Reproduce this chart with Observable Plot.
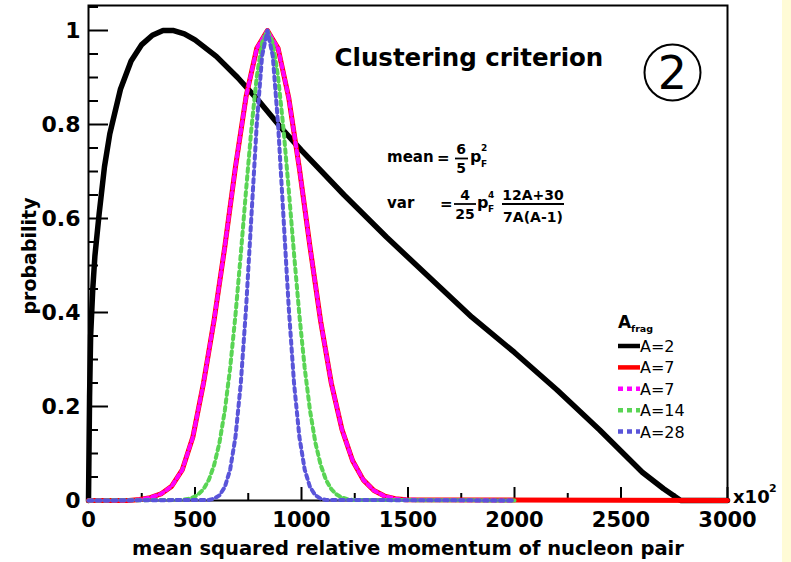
<!DOCTYPE html>
<html><head><meta charset="utf-8">
<script src="https://cdn.jsdelivr.net/npm/d3@7"></script>
<script src="https://cdn.jsdelivr.net/npm/@observablehq/plot@0.6"></script>
<style>
html,body{margin:0;padding:0;background:#fff;}
#wrap{position:relative;width:791px;height:562px;overflow:hidden;background:#fff;}
#strip{position:absolute;left:782px;top:0;width:9px;height:562px;background:#fffbd6;z-index:2;}
</style></head><body><div id="wrap"><div id="strip"></div></div>
<script>
// ---- data ----
const yTicks = [0, 0.2, 0.4, 0.6, 0.8, 1];
const yTickLabels = ["0", "0.2", "0.4", "0.6", "0.8", "1"];
const yMinorTicks = [0.05, 0.1, 0.15, 0.25, 0.3, 0.35, 0.45, 0.5, 0.55, 0.65, 0.7, 0.75, 0.85, 0.9, 0.95, 1.05];
const xTicks = [0, 500, 1000, 1500, 2000, 2500, 3000];
const xMinorTicks = [250, 750, 1250, 1750, 2250, 2750];
const seriesNames = ["A=2", "A=7", "A=7", "A=14", "A=28"];
const seriesColors = ["#000000", "#ff0000", "#ff00ff", "#59d454", "#5954d9"];

// A=2 (black)
const a2X = [0, 5, 10, 20, 30, 50, 75, 100, 150, 200, 250, 300, 350, 400, 450, 500, 600, 700, 800, 900, 1000, 1200, 1400, 1600, 1800, 2000, 2200, 2400, 2600, 2700, 2780, 3000];
const a2Y = [0, 0.22, 0.35, 0.45, 0.52, 0.61, 0.71, 0.78, 0.875, 0.935, 0.97, 0.99, 1.0, 1.0, 0.993, 0.98, 0.945, 0.9, 0.85, 0.795, 0.745, 0.65, 0.56, 0.475, 0.39, 0.315, 0.235, 0.15, 0.06, 0.025, 0, 0];
// A=7 (red solid, magenta dotted)
const a7X = [0, 190, 240, 290, 340, 390, 440, 490, 540, 590, 640, 690, 740, 790, 840, 890, 940, 990, 1040, 1090, 1140, 1190, 1240, 1290, 1340, 1390, 1440, 1490, 3000];
const a7Y = [0, 0, 0.002, 0.006, 0.014, 0.03, 0.065, 0.135, 0.25, 0.385, 0.54, 0.71, 0.86, 0.962, 1, 0.9621, 0.857, 0.7067, 0.5394, 0.3812, 0.2494, 0.151, 0.0847, 0.0439, 0.0211, 0.0094, 0.0039, 0.0015, 0];
const a7bX = [0, 190, 240, 290, 340, 390, 440, 490, 540, 590, 640, 690, 740, 790, 840, 890, 940, 990, 1040, 1090, 1140, 1190, 1240, 1290, 1340, 1390, 1440, 1490, 2000];
const a7bY = [0, 0, 0.002, 0.006, 0.014, 0.03, 0.065, 0.135, 0.25, 0.385, 0.54, 0.71, 0.86, 0.962, 1, 0.9621, 0.857, 0.7067, 0.5394, 0.3812, 0.2494, 0.151, 0.0847, 0.0439, 0.0211, 0.0094, 0.0039, 0.0015, 0];
// A=14 (green dotted)
const a14X = [0, 440, 465, 490, 515, 540, 565, 590, 615, 640, 665, 690, 715, 740, 765, 790, 815, 840, 865, 890, 915, 940, 965, 990, 1015, 1040, 1065, 1090, 1115, 1140, 1165, 1190, 1215, 1240, 2000];
const a14Y = [0, 0.0013, 0.003, 0.0063, 0.0127, 0.0242, 0.0439, 0.0756, 0.1234, 0.1914, 0.282, 0.3946, 0.5243, 0.6615, 0.7926, 0.9018, 0.9745, 1, 0.9745, 0.9018, 0.7926, 0.6615, 0.5243, 0.3946, 0.282, 0.1914, 0.1234, 0.0756, 0.0439, 0.0242, 0.0127, 0.0063, 0.003, 0.0013, 0];
// A=28 (blue dotted)
const a28X = [0, 565, 590, 615, 640, 665, 690, 715, 740, 765, 790, 815, 840, 865, 890, 915, 940, 965, 990, 1015, 1040, 1065, 1090, 1115, 2000];
const a28Y = [0, 0.0012, 0.0039, 0.0111, 0.0286, 0.0657, 0.1353, 0.2494, 0.4111, 0.6065, 0.8007, 0.946, 1, 0.946, 0.8007, 0.6065, 0.4111, 0.2494, 0.1353, 0.0657, 0.0286, 0.0111, 0.0039, 0.0012, 0];

const toRows = (xs, ys) => xs.map((x, i) => ({x, y: ys[i]}));
const FONT = "DejaVu Sans, Liberation Sans, Arial, sans-serif";

const chart = Plot.plot({
  width: 791, height: 562,
  marginLeft: 88, marginRight: 64, marginTop: 5, marginBottom: 62,
  x: {domain: [0, 3000]},
  y: {domain: [0, 1.0532]},
  style: {fontFamily: FONT, background: "transparent", color: "black"},
  marks: [
    Plot.frame({stroke: "black", strokeWidth: 2}),
    Plot.axisY(yTicks, {tickSize: -20, fill: "none", label: null, strokeWidth: 2}),
    Plot.axisY(yMinorTicks, {tickSize: -10, fill: "none", label: null, strokeWidth: 2}),
    Plot.axisY(yTicks, {tickSize: 0, tickPadding: 8, stroke: "none", label: null, fontSize: 22, fontWeight: "bold",
      tickFormat: d => yTickLabels[yTicks.indexOf(d)]}),
    Plot.axisX(xTicks, {tickSize: -13, fill: "none", label: null, strokeWidth: 2}),
    Plot.axisX(xMinorTicks, {tickSize: -7, fill: "none", label: null, strokeWidth: 2}),
    Plot.axisX(xTicks, {tickSize: 0, tickPadding: 12, stroke: "none", label: null, fontSize: 21, fontWeight: "bold", tickFormat: d => String(d)}),
    Plot.line(toRows(a2X, a2Y), {x: "x", y: "y", stroke: seriesColors[0], strokeWidth: 5.5}),
    Plot.line(toRows(a7X, a7Y), {x: "x", y: "y", stroke: seriesColors[1], strokeWidth: 5}),
    Plot.line(toRows(a7bX, a7bY), {x: "x", y: "y", stroke: seriesColors[2], strokeWidth: 4, strokeDasharray: "4 4"}),
    Plot.line(toRows(a14X, a14Y), {x: "x", y: "y", stroke: seriesColors[3], strokeWidth: 4, strokeDasharray: "4 4"}),
    Plot.line(toRows(a28X, a28Y), {x: "x", y: "y", stroke: seriesColors[4], strokeWidth: 4, strokeDasharray: "4 4"}),
    Plot.text(["mean squared relative momentum of nucleon pair"], {frameAnchor: "bottom", dy: 48, lineAnchor: "middle", textAnchor: "middle", fontSize: 19.5, fontWeight: "bold", text: d => d}),
    Plot.text(["probability"], {frameAnchor: "left", dx: -59, dy: 3, rotate: -90, textAnchor: "middle", lineAnchor: "middle", fontSize: 19, fontWeight: "bold", text: d => d}),
    Plot.text(["Clustering criterion"], {frameAnchor: "top-left", dx: 246, dy: 53, textAnchor: "start", lineAnchor: "middle", fontSize: 24.5, fontWeight: "bold", text: d => d}),
    Plot.dot([0], {frameAnchor: "top-left", dx: 584, dy: 67, r: 28, stroke: "black", strokeWidth: 2, fill: "none"}),
    Plot.text(["2"], {frameAnchor: "top-left", dx: 584, dy: 69, textAnchor: "middle", lineAnchor: "middle", fontSize: 46, text: d => d})
  ]
});
document.getElementById("wrap").appendChild(chart);

// ---- annotations (formula, legend, exponent) ----
const svg = d3.select(chart);
const g = svg.append("g").attr("font-family", FONT).attr("fill", "black");
function t(x, y, s, size, weight, anchor) {
  return g.append("text").attr("x", x).attr("y", y).attr("font-size", size)
    .attr("font-weight", weight || "bold").attr("text-anchor", anchor || "start").text(s);
}
function bar(x1, x2, y, w) {
  g.append("line").attr("x1", x1).attr("x2", x2).attr("y1", y).attr("y2", y)
    .attr("stroke", "black").attr("stroke-width", w || 1.8);
}
// mean
t(387, 162, "mean", 15);
t(437, 163, "=", 15);
t(461, 154, "6", 14, "bold", "middle");
bar(455, 468, 158.5);
t(461, 173, "5", 14, "bold", "middle");
t(470, 162, "p", 16);
t(481, 151, "2", 9);
t(481, 167, "F", 9);
// var
t(387, 208, "var", 15);
t(440, 209, "=", 15);
t(465, 200, "4", 14, "bold", "middle");
bar(454, 476, 204);
t(465, 219, "25", 14, "bold", "middle");
t(477, 208, "p", 16);
t(488, 198, "4", 9);
t(488, 212, "F", 9);
t(533, 200, "12A+30", 14, "bold", "middle");
bar(502, 564, 204, 2);
t(533, 222, "7A(A-1)", 14, "bold", "middle");
// exponent
t(733, 503, "x10", 18);
t(769, 492, "2", 11);
// legend
t(618, 328, "A", 17);
t(631, 332, "frag", 9.5);
const legendY0 = 346, legendDy = 21.4;
seriesNames.forEach((name, i) => {
  const y = legendY0 + i * legendDy;
  const ln = g.append("line").attr("x1", 618).attr("x2", 640).attr("y1", y).attr("y2", y)
    .attr("stroke", seriesColors[i]).attr("stroke-width", 4.5);
  if (i >= 2) ln.attr("stroke-dasharray", "5 4");
  t(640, y + 6, name, 16, "normal");
});
</script></body></html>
